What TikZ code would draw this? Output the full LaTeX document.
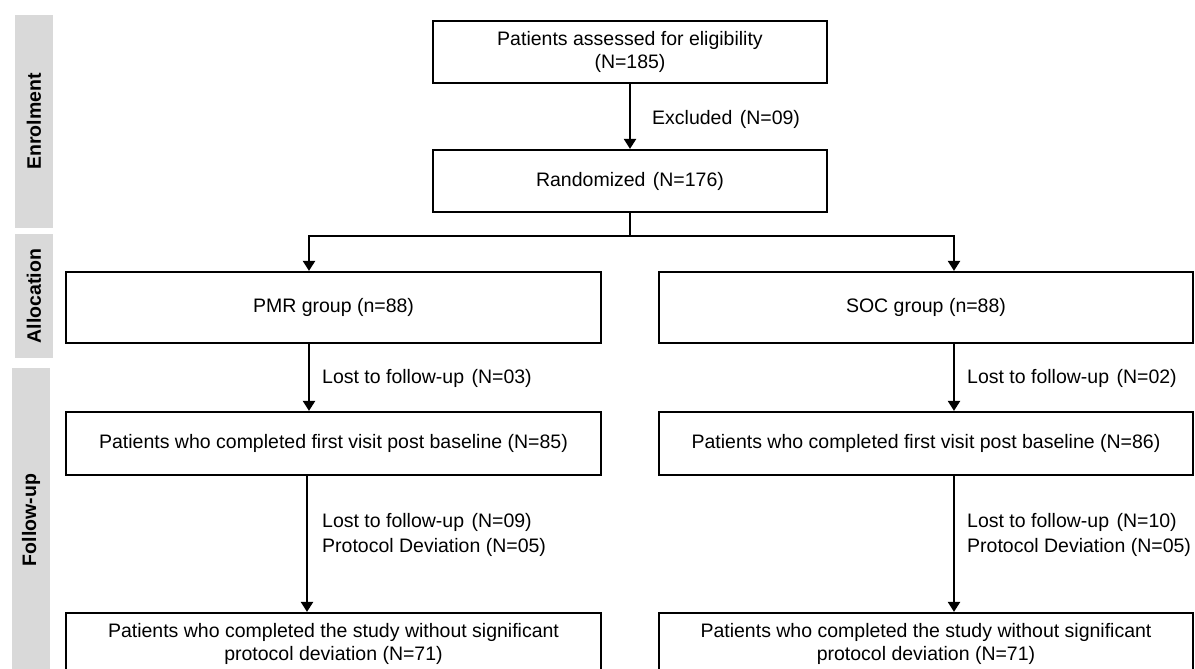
\documentclass[tikz,border=0pt]{standalone}
\usepackage{fontspec}
\setmainfont{Liberation Sans}
\usetikzlibrary{arrows.meta}
\definecolor{sidegray}{HTML}{D9D9D9}
\begin{document}
\begin{tikzpicture}[x=1pt,y=-1pt,
  box/.style={draw=black, line width=2.2pt, fill=white, inner sep=0pt, align=center,
              font=\fontsize{19.5}{22.5}\selectfont},
  lbl/.style={anchor=west, align=left, inner sep=0pt, font=\fontsize{19.5}{25}\selectfont},
  side/.style={fill=sidegray, inner sep=0pt, rotate=90, font=\bfseries\fontsize{19.5}{22}\selectfont},
  arr/.style={line width=2.2pt, -{Triangle[length=10pt,width=12pt]}},
  conn/.style={line width=2.2pt}]
\useasboundingbox (0,0) rectangle (1195,669);
\clip (0,0) rectangle (1195,669);

% side bars
\node[side, minimum width=213pt, minimum height=38pt] (senr) at (34,121.5) {Enrolment};
\node[side, minimum width=124pt, minimum height=38pt] (salloc) at (34,296) {Allocation};
\node[side, minimum width=304pt, minimum height=38pt] (sfol) at (31,520) {Follow-up};

% boxes
\node[box, minimum width=394pt, minimum height=62pt] (elig) at (630,52) {Patients assessed for eligibility\\(N=185)};
\node[box, minimum width=394pt, minimum height=62pt] (rand) at (630,181) {Randomized\kern2pt\ (N=176)};
\node[box, minimum width=535pt, minimum height=71pt] (pmr) at (333.5,307.5) {PMR group (n=88)};
\node[box, minimum width=534pt, minimum height=71pt] (soc) at (926,307.5) {SOC group (n=88)};
\node[box, minimum width=535pt, minimum height=63pt] (fv1) at (333.5,443.5) {Patients who completed first visit post baseline (N=85)};
\node[box, minimum width=534pt, minimum height=63pt] (fv2) at (926,443.5) {Patients who completed first visit post baseline (N=86)};
\node[box, minimum width=535pt, minimum height=62pt] (done1) at (333.5,644) {Patients who completed the study without significant\\protocol deviation (N=71)};
\node[box, minimum width=534pt, minimum height=62pt] (done2) at (926,644) {Patients who completed the study without significant\\protocol deviation (N=71)};

% coordinates
\coordinate (split) at (630,236);
\coordinate (sl) at (309,236);
\coordinate (sr) at (954,236);
\coordinate (cl) at (307,0);

% connectors
\draw[arr] (elig.south) -- (rand.north);
\draw[conn] (rand.south) -- (split);
\draw[arr] (split) -- (sl) -- (sl |- pmr.north);
\draw[arr] (split) -- (sr) -- (sr |- soc.north);
\draw[arr] (pmr.south -| sl) -- (fv1.north -| sl);
\draw[arr] (soc.south -| sr) -- (fv2.north -| sr);
\draw[arr] (fv1.south -| cl) -- (done1.north -| cl);
\draw[arr] (fv2.south -| sr) -- (done2.north -| sr);

% labels
\node[lbl] (lexc) at (652,119) {Excluded\kern2pt\ (N=09)};
\node[lbl] (ll1) at (322,378) {Lost to follow-up\kern2pt\ (N=03)};
\node[lbl] (lr1) at (967,378) {Lost to follow-up\kern2pt\ (N=02)};
\node[lbl] (ll2) at (322,534.5) {Lost to follow-up\kern2pt\ (N=09)\\Protocol Deviation (N=05)};
\node[lbl] (lr2) at (967,534.5) {Lost to follow-up\kern2pt\ (N=10)\\Protocol Deviation (N=05)};
\end{tikzpicture}
\end{document}
